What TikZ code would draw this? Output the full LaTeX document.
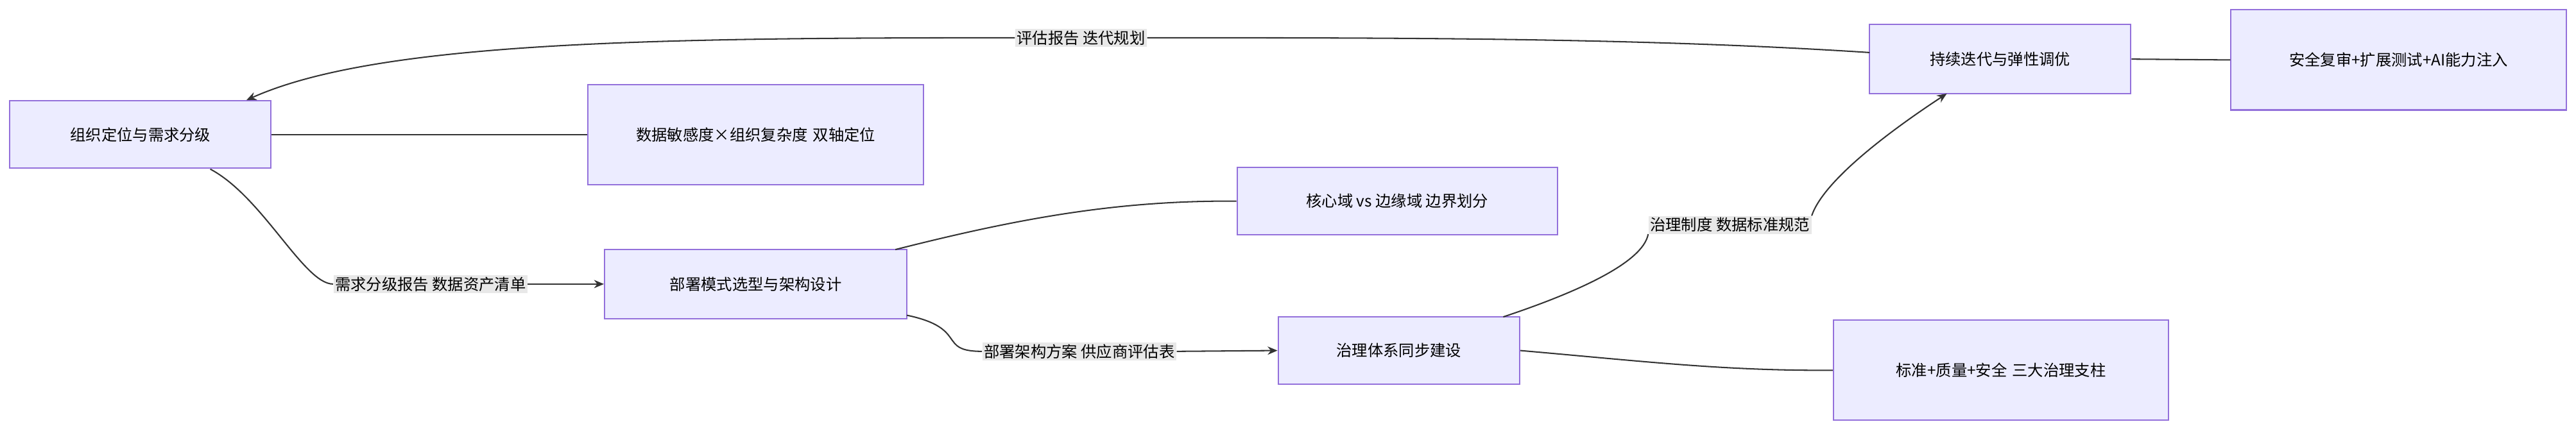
\documentclass[tikz,border=0pt]{standalone}
\usepackage{fontspec}
\setmainfont{Noto Sans CJK SC}
\usetikzlibrary{arrows.meta}
\definecolor{nfill}{HTML}{ECECFF}
\definecolor{nline}{HTML}{9370DB}
\definecolor{eline}{HTML}{333333}
\definecolor{lbg}{HTML}{E8E8E8}
\begin{document}
\begin{tikzpicture}[x=1pt,y=-1pt,
  box/.style={draw=nline,fill=nfill,line width=0.8pt,font=\fontsize{9.5}{14}\selectfont,align=center,inner sep=0pt},
  lab/.style={fill=lbg,inner sep=1pt,font=\fontsize{9.5}{12}\selectfont},
  conn/.style={draw=eline,line width=0.8pt},
  arr/.style={conn,-{Stealth[length=6pt,width=5pt]}}]
\useasboundingbox (0,0) rectangle (1568,262.5);
\node[box,minimum width=159,minimum height=41] (A) at (85.5,82) {组织定位与需求分级};
\node[box,minimum width=204,minimum height=61,text width=180] (B) at (460,82) {数据敏感度×组织复杂度 双轴定位};
\node[box,minimum width=184,minimum height=42] (C) at (460,173) {部署模式选型与架构设计};
\node[box,minimum width=195,minimum height=41] (D) at (850.5,122.5) {核心域 vs 边缘域 边界划分};
\node[box,minimum width=147,minimum height=41] (E) at (851.5,213.5) {治理体系同步建设};
\node[box,minimum width=204,minimum height=61,text width=180] (F) at (1218,225.5) {标准+质量+安全 三大治理支柱};
\node[box,minimum width=159,minimum height=42] (G) at (1217.5,36) {持续迭代与弹性调优};
\node[box,minimum width=204,minimum height=61,text width=180] (H) at (1460,36.5) {安全复审+扩展测试+AI能力注入};
\coordinate (Ae) at (128,103);
\node[lab] (L1) at (262,173) {需求分级报告 数据资产清单};
\node[lab] (L2) at (657,214) {部署架构方案 供应商评估表};
\node[lab] (L3) at (1053,137) {治理制度 数据标准规范};
\node[lab] (L4) at (658,23) {评估报告 迭代规划};
\draw[conn] (A.east) -- (B.west);
\draw[conn] (128,103) .. controls (160,120) and (185,173) .. (L1.west);
\draw[arr] (L1.east) -- (C.west);
\draw[conn] (545,152) .. controls (620,133) and (680,122) .. (D.west);
\draw[conn] (552,192) .. controls (590,200) and (570,214) .. (L2.west);
\draw[arr] (L2.east) -- (E.west);
\draw[conn] (E.east) .. controls (1000,220) and (1050,226) .. (F.west);
\draw[conn] (915,193) .. controls (960,178) and (1000,160) .. (L3.south west);
\draw[arr] (L3.north east) .. controls (1110,110) and (1150,80) .. (1185,57);
\draw[conn] (G.east) -- (H.west);
\draw[conn] (1138,32) .. controls (1000,23) and (850,23) .. (L4.east);
\draw[arr] (L4.west) .. controls (400,23) and (230,25) .. (150,61);
\end{tikzpicture}
\end{document}
